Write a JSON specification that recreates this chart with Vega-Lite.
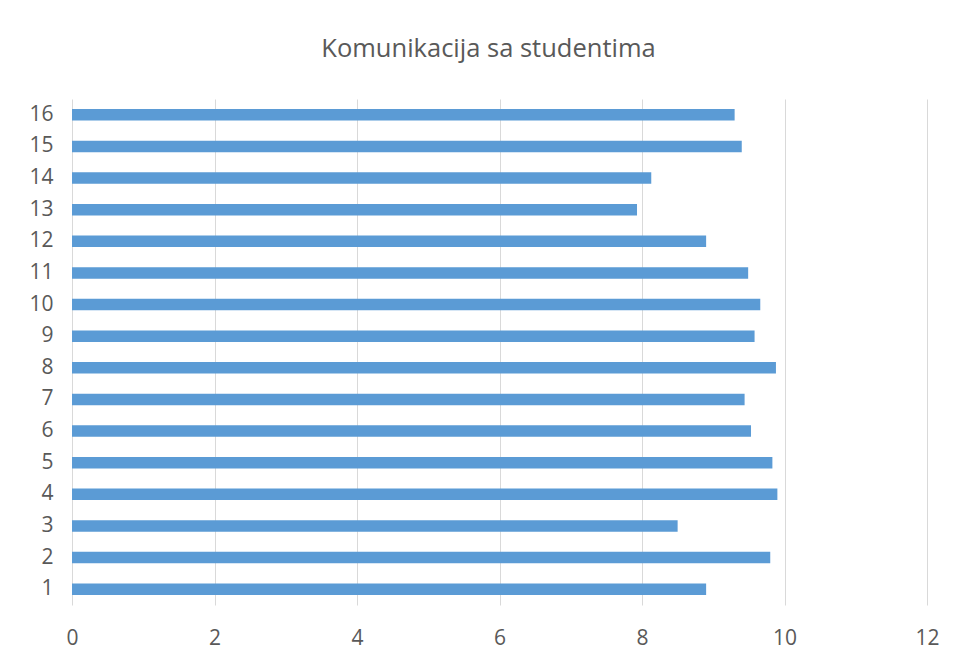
{
  "$schema": "https://vega.github.io/schema/vega-lite/v6.json",
  "autosize": {"type": "none"},
  "width": 855,
  "height": 506,
  "padding": {"left": 72, "top": 99, "right": 30, "bottom": 55},
  "background": "white",
  "title": {
    "text": "Komunikacija sa studentima",
    "font": "Open Sans",
    "fontSize": 25.5,
    "fontWeight": "normal",
    "color": "#595959",
    "anchor": "middle",
    "dx": -11,
    "offset": 37
  },
  "data": {
    "values": [
      {"q": 1, "v": 8.90},
      {"q": 2, "v": 9.80},
      {"q": 3, "v": 8.50},
      {"q": 4, "v": 9.90},
      {"q": 5, "v": 9.83},
      {"q": 6, "v": 9.53},
      {"q": 7, "v": 9.44},
      {"q": 8, "v": 9.88},
      {"q": 9, "v": 9.58},
      {"q": 10, "v": 9.66},
      {"q": 11, "v": 9.49},
      {"q": 12, "v": 8.90},
      {"q": 13, "v": 7.93},
      {"q": 14, "v": 8.13},
      {"q": 15, "v": 9.40},
      {"q": 16, "v": 9.30}
    ]
  },
  "mark": {"type": "bar", "color": "#5B9BD5"},
  "encoding": {
    "y": {
      "field": "q",
      "type": "ordinal",
      "sort": "descending",
      "scale": {"paddingInner": 0.64, "paddingOuter": 0.32},
      "axis": {
        "title": null,
        "domain": false,
        "ticks": false,
        "grid": false,
        "labelPadding": 19,
        "labelFont": "Open Sans",
        "labelFontSize": 21,
        "labelColor": "#595959"
      }
    },
    "x": {
      "field": "v",
      "type": "quantitative",
      "scale": {"domain": [0, 12], "nice": false},
      "axis": {
        "title": null,
        "values": [0, 2, 4, 6, 8, 10, 12],
        "domain": false,
        "ticks": false,
        "grid": true,
        "gridColor": "#D9D9D9",
        "gridWidth": 1,
        "labelFlush": false,
        "labelPadding": 22,
        "labelFont": "Open Sans",
        "labelFontSize": 21,
        "labelColor": "#595959"
      }
    }
  },
  "config": {"view": {"stroke": null}}
}
